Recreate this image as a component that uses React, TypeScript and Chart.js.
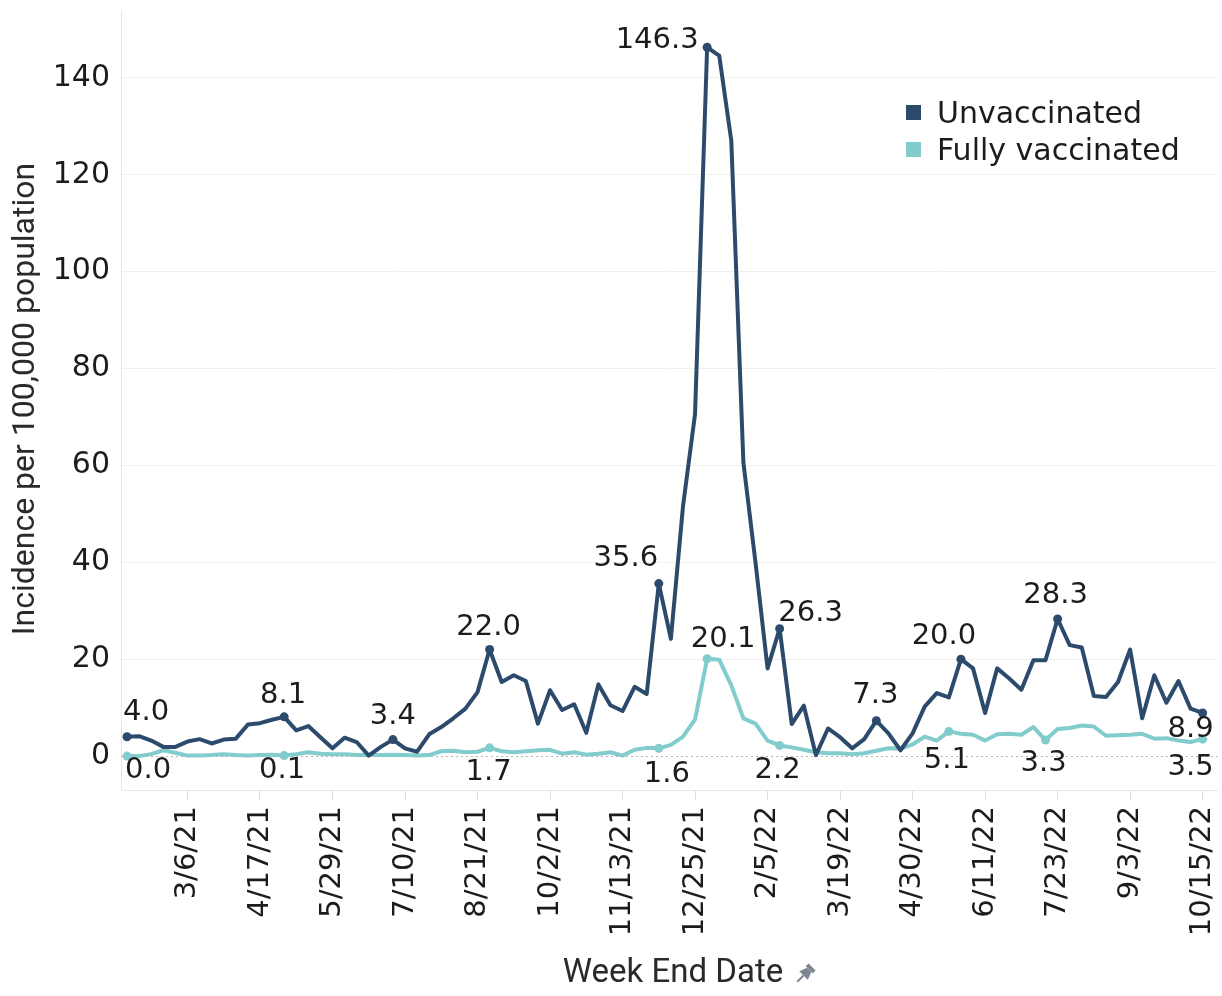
import React, { useEffect, useRef } from 'react';
import { Chart, registerables } from 'chart.js';

Chart.register(...registerables);

// Weekly points, week ending 1/30/21 (index 0) to 10/15/22 (index 89)
const unvaccinated = [
  4.0, 4.1, 3.2, 1.9, 1.9, 3.0, 3.5, 2.6, 3.4, 3.6,
  6.5, 6.8, 7.5, 8.1, 5.3, 6.2, 3.9, 1.6, 3.8, 2.9,
  0.1, 1.9, 3.4, 1.6, 0.9, 4.5, 6.0, 7.8, 9.8, 13.2,
  22.0, 15.3, 16.7, 15.5, 6.7, 13.6, 9.5, 10.7, 4.8, 14.8,
  10.5, 9.3, 14.3, 12.8, 35.6, 24.2, 51.5, 70.6, 146.3, 144.6,
  127.0, 60.6, 40.0, 18.1, 26.3, 6.6, 10.4, 0.2, 5.7, 3.9,
  1.6, 3.5, 7.3, 4.7, 1.2, 4.7, 10.2, 13.0, 12.1, 20.0,
  18.1, 8.9, 18.1, 16.0, 13.7, 19.8, 19.8, 28.3, 22.9, 22.4,
  12.4, 12.2, 15.3, 22.0, 7.8, 16.7, 11.0, 15.5, 9.8, 8.9,
];

const fullyVaccinated = [
  0.0, 0.0, 0.4, 1.2, 0.7, 0.1, 0.1, 0.2, 0.4, 0.2,
  0.1, 0.2, 0.3, 0.1, 0.4, 0.8, 0.5, 0.4, 0.4, 0.2,
  0.3, 0.2, 0.3, 0.2, 0.1, 0.2, 1.0, 1.1, 0.8, 0.9,
  1.7, 1.0, 0.8, 1.0, 1.2, 1.3, 0.5, 0.8, 0.3, 0.5,
  0.8, 0.1, 1.3, 1.7, 1.6, 2.3, 4.0, 7.6, 20.1, 19.9,
  14.6, 7.8, 6.7, 3.2, 2.2, 1.8, 1.3, 0.8, 0.6, 0.6,
  0.4, 0.6, 1.1, 1.6, 1.5, 2.4, 4.0, 3.2, 5.1, 4.6,
  4.4, 3.2, 4.5, 4.6, 4.4, 6.0, 3.3, 5.6, 5.8, 6.3,
  6.1, 4.2, 4.3, 4.4, 4.6, 3.6, 3.7, 3.2, 2.9, 3.5,
];

const tickWeekIndex = [5, 11, 17, 23, 29, 35, 41, 47, 53, 59, 65, 71, 77, 83, 89];
const tickLabels = [
  '3/6/21', '4/17/21', '5/29/21', '7/10/21', '8/21/21', '10/2/21', '11/13/21',
  '12/25/21', '2/5/22', '3/19/22', '4/30/22', '6/11/22', '7/23/22', '9/3/22', '10/15/22',
];
const yTickValues = [0, 20, 40, 60, 80, 100, 120, 140];

const unvaxLabelIdx = [0, 13, 22, 30, 44, 48, 54, 62, 69, 77, 89];
const vaxLabelIdx = [0, 13, 30, 44, 48, 54, 68, 76, 89];

const seriesNames = ['Unvaccinated', 'Fully vaccinated'];

// label placement (offset of label centre from the point, px)
const unvaxLabelOffset: Record<number, [number, number]> = {
  0: [19, -27], 13: [-1, -24], 22: [0, -26], 30: [-1, -25], 44: [-33, -28],
  48: [-50, -10], 54: [31, -18], 62: [-1, -28], 69: [-17, -26], 77: [-2, -27], 89: [-12, 13],
};
const vaxLabelOffset: Record<number, [number, number]> = {
  0: [21, 11], 13: [-2, 12], 30: [-1, 22], 44: [8, 23], 48: [16, -22],
  54: [-2, 22], 68: [-2, 26], 76: [-2, 20], 89: [-12, 25],
};

const UNVAX_COLOR = '#2c4b6c';
const VAX_COLOR = '#82cccd';
const TEXT_COLOR = '#1c1c1c';
const NUM_FONT = '"DejaVu Sans", sans-serif';
const TITLE_FONT = 'Roboto, sans-serif';

const overlayPlugin = {
  id: 'overlay',
  beforeDatasetsDraw(chart: any) {
    const { ctx, chartArea, scales } = chart;
    const y0 = Math.round(scales.y.getPixelForValue(0)) + 0.5;
    ctx.save();
    ctx.strokeStyle = '#b5b5b5';
    ctx.lineWidth = 1;
    ctx.setLineDash([2, 3]);
    ctx.beginPath();
    ctx.moveTo(chartArea.left, y0);
    ctx.lineTo(chartArea.right, y0);
    ctx.stroke();
    ctx.restore();
  },
  afterDatasetsDraw(chart: any) {
    const { ctx, scales } = chart;
    const xs = scales.x;
    const ys = scales.y;
    ctx.save();
    // data labels
    const labelSize = 29;
    ctx.font = `${labelSize}px ${NUM_FONT}`;
    ctx.fillStyle = TEXT_COLOR;
    ctx.textAlign = 'center';
    ctx.textBaseline = 'alphabetic';
    const cap = labelSize * 0.73;
    const drawLabels = (vals: number[], idxs: number[], offs: Record<number, [number, number]>) => {
      idxs.forEach((i) => {
        const px = xs.getPixelForValue(i);
        const py = ys.getPixelForValue(vals[i]);
        const [dx, dy] = offs[i] || [0, -26];
        ctx.fillText(vals[i].toFixed(1), px + dx, py + dy + cap / 2);
      });
    };
    drawLabels(unvaccinated, unvaxLabelIdx, unvaxLabelOffset);
    drawLabels(fullyVaccinated, vaxLabelIdx, vaxLabelOffset);

    // legend
    const legendSize = 30;
    ctx.font = `${legendSize}px ${NUM_FONT}`;
    ctx.textAlign = 'left';
    const legendRows: [string, string, number][] = [
      [seriesNames[0], UNVAX_COLOR, 112],
      [seriesNames[1], VAX_COLOR, 149],
    ];
    legendRows.forEach(([name, color, cy]) => {
      ctx.fillStyle = color;
      ctx.fillRect(906, cy - 7, 15, 15);
      ctx.fillStyle = TEXT_COLOR;
      ctx.fillText(name, 937, cy + (legendSize * 0.73) / 2);
    });

    // axis titles
    ctx.fillStyle = '#2a2a2a';
    ctx.font = `32px ${TITLE_FONT}`;
    ctx.textAlign = 'center';
    ctx.textBaseline = 'middle';
    ctx.save();
    ctx.translate(26, 399);
    ctx.rotate(-Math.PI / 2);
    ctx.fillText('Incidence per 100,000 population', 0, 0);
    ctx.restore();
    ctx.font = `33px ${TITLE_FONT}`;
    ctx.fillText('Week End Date', 673, 974);

    // pin icon
    ctx.save();
    ctx.translate(805, 974);
    ctx.rotate(Math.PI / 4);
    ctx.fillStyle = '#7d8593';
    ctx.fillRect(-5, -10, 10, 4);
    ctx.beginPath();
    ctx.moveTo(-3, -6);
    ctx.lineTo(3, -6);
    ctx.lineTo(6, 2);
    ctx.lineTo(-6, 2);
    ctx.closePath();
    ctx.fill();
    ctx.strokeStyle = '#7d8593';
    ctx.lineWidth = 2;
    ctx.beginPath();
    ctx.moveTo(0, 2);
    ctx.lineTo(0, 11);
    ctx.stroke();
    ctx.restore();

    ctx.restore();
  },
};

export default function App() {
  const canvasRef = useRef<HTMLCanvasElement | null>(null);

  useEffect(() => {
    const canvas = canvasRef.current;
    if (!canvas) return;
    const pointRadiusFor = (idxs: number[]) => (c: any) => (idxs.includes(c.dataIndex) ? 4.5 : 0);
    const chart = new Chart(canvas, {
      type: 'line',
      data: {
        datasets: [
          {
            label: seriesNames[0],
            data: unvaccinated.map((v, i) => ({ x: i, y: v })),
            borderColor: UNVAX_COLOR,
            backgroundColor: UNVAX_COLOR,
            borderWidth: 4,
            tension: 0,
            pointRadius: pointRadiusFor(unvaxLabelIdx),
            pointBorderWidth: 0,
            borderJoinStyle: 'round',
          },
          {
            label: seriesNames[1],
            data: fullyVaccinated.map((v, i) => ({ x: i, y: v })),
            borderColor: VAX_COLOR,
            backgroundColor: VAX_COLOR,
            borderWidth: 4,
            tension: 0,
            pointRadius: pointRadiusFor(vaxLabelIdx),
            pointBorderWidth: 0,
            borderJoinStyle: 'round',
          },
        ],
      },
      options: {
        animation: false,
        responsive: false,
        maintainAspectRatio: false,
        layout: { padding: { top: 10, left: 0, right: 0, bottom: 0 } },
        plugins: {
          legend: { display: false },
          tooltip: { enabled: false },
        },
        scales: {
          x: {
            type: 'linear',
            min: -0.5,
            max: 90.23,
            afterBuildTicks: (s: any) => {
              s.ticks = tickWeekIndex.map((v) => ({ value: v }));
            },
            afterFit: (s: any) => {
              s.height = 206;
              s.paddingLeft = 0;
              s.paddingRight = 0;
              s.paddingTop = 0;
              s.paddingBottom = 0;
            },
            ticks: {
              autoSkip: false,
              maxRotation: 90,
              minRotation: 90,
              padding: 6,
              color: TEXT_COLOR,
              font: { family: NUM_FONT, size: 29 },
              callback: (v: any) => {
                const k = tickWeekIndex.indexOf(Number(v));
                return k >= 0 ? tickLabels[k] : '';
              },
            },
            grid: {
              display: true,
              drawOnChartArea: false,
              drawTicks: true,
              tickLength: 10,
              tickColor: '#dedede',
              color: '#dedede',
            },
            border: { display: true, color: '#e8e8e8', width: 1 },
          },
          y: {
            type: 'linear',
            min: -7,
            max: 154,
            afterBuildTicks: (s: any) => {
              s.ticks = yTickValues.map((v) => ({ value: v }));
            },
            afterFit: (s: any) => {
              s.width = 121;
              s.paddingLeft = 0;
              s.paddingRight = 0;
              s.paddingTop = 0;
              s.paddingBottom = 0;
            },
            ticks: {
              padding: 11,
              color: TEXT_COLOR,
              font: { family: NUM_FONT, size: 30 },
            },
            grid: {
              drawTicks: false,
              lineWidth: 1,
              color: (c: any) => (c.tick && c.tick.value === 0 ? 'rgba(0,0,0,0)' : '#efefef'),
            },
            border: { display: true, color: '#e8e8e8', width: 1 },
          },
        },
      },
      plugins: [overlayPlugin],
    } as any);
    return () => chart.destroy();
  }, []);

  return (
    <div style={{ position: 'fixed', left: 0, top: 0, width: 1222, height: 996, background: '#fff' }}>
      <canvas ref={canvasRef} width={1222} height={996} style={{ display: 'block', width: 1222, height: 996 }} />
    </div>
  );
}
